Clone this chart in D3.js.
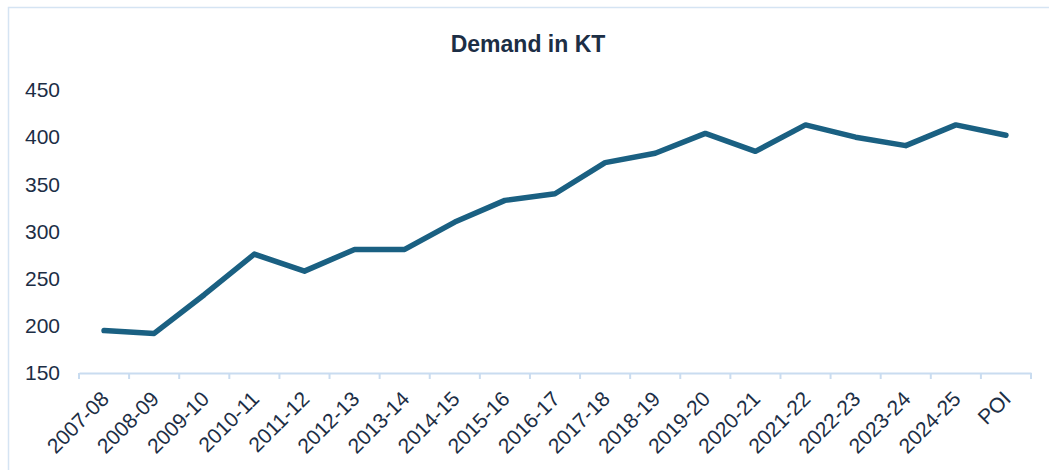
<!DOCTYPE html>
<html>
<head>
<meta charset="utf-8">
<script src="https://cdn.jsdelivr.net/npm/d3@7"></script>
<style>
  body { margin: 0; background: #fff; overflow: hidden; }
  text { font-family: "Liberation Sans", Arial, sans-serif; }
</style>
</head>
<body>
<div id="plot"></div>
<script>
// data
const categories = ["2007-08", "2008-09", "2009-10", "2010-11", "2011-12", "2012-13", "2013-14",
  "2014-15", "2015-16", "2016-17", "2017-18", "2018-19", "2019-20", "2020-21", "2021-22",
  "2022-23", "2023-24", "2024-25", "POI"];
const demand = [195, 192, 233, 276, 258, 281, 281, 310, 333, 340, 373, 383, 404, 385, 413, 400, 391, 413, 402];
const yTicks = [150, 200, 250, 300, 350, 400, 450];

const w = 1049, h = 470;
const margin = {top: 90, right: 18, bottom: 97, left: 79};
const innerWidth = w - margin.left - margin.right;
const innerHeight = h - margin.top - margin.bottom;

const textColor = "#1c2e45";
const lineColor = "#1a6082";
const axisColor = "#c9dcf0";

const root = d3.select("div#plot")
  .append("svg")
    .attr("width", w)
    .attr("height", h)
    .style("display", "block");

// outer frame (only top and left visible)
root.append("rect")
  .attr("x", 8.5)
  .attr("y", 7.5)
  .attr("width", w + 10)
  .attr("height", h + 10)
  .style("fill", "none")
  .style("stroke", "#d5e4f3")
  .style("stroke-width", 1.5);

root.append("text")
  .attr("x", 528)
  .attr("y", 52)
  .attr("text-anchor", "middle")
  .style("font-size", "23px")
  .style("font-weight", "bold")
  .style("fill", textColor)
  .text("Demand in KT");

const svg = root.append("g")
  .attr("transform", `translate(${margin.left}, ${margin.top})`);

const xScale = d3.scaleBand()
  .domain(categories)
  .range([0, innerWidth]);

const yScale = d3.scaleLinear()
  .domain([150, 450])
  .range([innerHeight, 0]);

// y axis (labels only)
const yAxis = svg.append("g")
  .call(d3.axisLeft(yScale).tickValues(yTicks).tickSize(0).tickPadding(19));
yAxis.select(".domain").remove();
yAxis.selectAll("text")
  .style("font-size", "21px")
  .style("fill", textColor)
  .style("font-family", "Liberation Sans, Arial, sans-serif");

// x axis
const xAxis = svg.append("g")
  .attr("transform", `translate(0, ${innerHeight})`)
  .call(d3.axisBottom(xScale).tickSizeOuter(0).tickSize(0));
xAxis.select(".domain")
  .style("stroke", axisColor)
  .style("stroke-width", 2);
xAxis.selectAll(".tick").remove();

// band boundary ticks
svg.append("g")
  .selectAll("line")
  .data(categories.concat(["__end"]))
  .enter().append("line")
    .attr("x1", (d, i) => i < categories.length ? xScale(d) : innerWidth)
    .attr("x2", (d, i) => i < categories.length ? xScale(d) : innerWidth)
    .attr("y1", innerHeight)
    .attr("y2", innerHeight + 6)
    .style("stroke", axisColor)
    .style("stroke-width", 2);

svg.append("g")
  .selectAll("text")
  .data(categories)
  .enter().append("text")
    .attr("transform", d => `translate(${xScale(d) + xScale.bandwidth() / 2 + 1}, ${innerHeight + 22}) rotate(-45)`)
    .attr("text-anchor", "end")
    .attr("dy", "0.35em")
    .style("font-size", "21px")
    .style("fill", textColor)
    .text(d => d);

// line
const line = d3.line()
  .x((d, i) => xScale(categories[i]) + xScale.bandwidth() / 2)
  .y(d => yScale(d));

svg.append("path")
  .datum(demand)
  .attr("d", line)
  .style("fill", "none")
  .style("stroke", lineColor)
  .style("stroke-width", 5.5)
  .style("stroke-linecap", "round")
  .style("stroke-linejoin", "round");
</script>
</body>
</html>
